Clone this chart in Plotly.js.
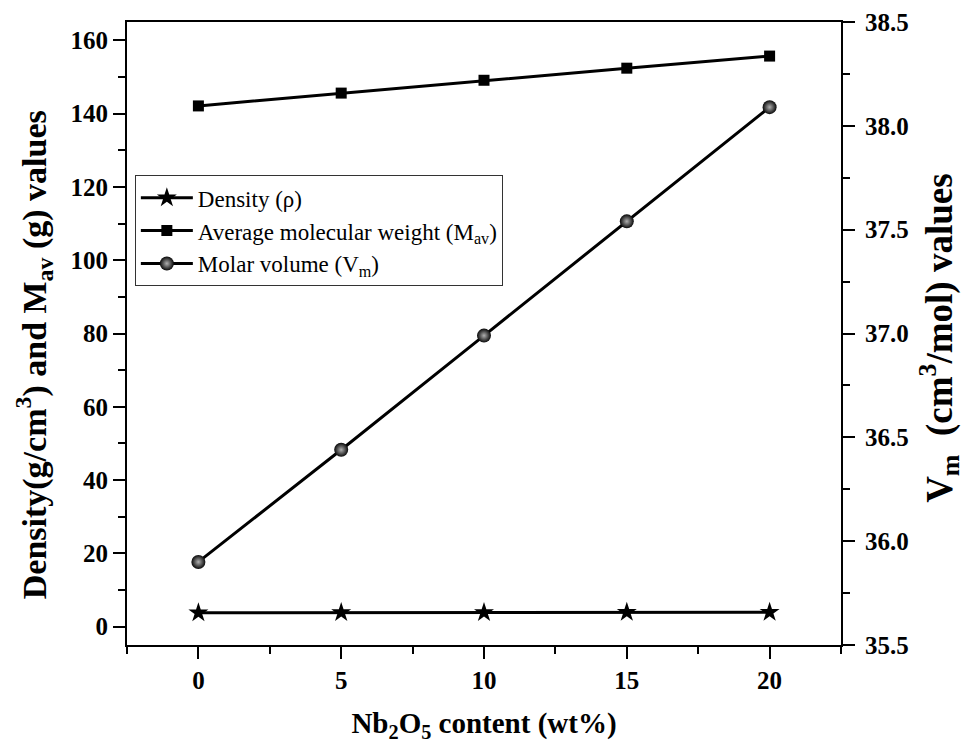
<!DOCTYPE html>
<html>
<head>
<meta charset="utf-8">
<script src="https://cdn.plot.ly/plotly-3.0.1.min.js"></script>
<style>body{margin:0;padding:0;background:#fff;}#chart{width:971px;height:754px;}</style>
</head>
<body>
<div id="chart"></div>
<script>
const content = [0, 5, 10, 15, 20];
const density = [3.82, 3.85, 3.88, 3.92, 3.96];
const mav = [142.1, 145.6, 149.1, 152.4, 155.7];
const vm = [35.90, 36.44, 36.99, 37.54, 38.09];

const names = ['Density (\u03c1)', 'Average molecular weight (M<sub>av</sub>)', 'Molar volume (V<sub>m</sub>)'];
const xTitle = 'Nb<sub>2</sub>O<sub>5</sub> content (wt%)';
const yTitle = 'Density(g/cm<sup>3</sup>) and M<sub>av</sub> (g) values\u00a0\u00a0\u00a0\u00a0\u00a0\u200b';
const y2Title = 'V<sub>m</sub> \u00a0(cm<sup>3</sup>/mol) values\u00a0\u200b';

const serif = '"Liberation Serif", "Times New Roman", serif';

const traces = [
  {x: content, y: density, name: names[0], type: 'scatter', mode: 'lines+markers',
   line: {color: 'black', width: 3}, marker: {symbol: 'star', size: 15, color: 'black'}},
  {x: content, y: mav, name: names[1], type: 'scatter', mode: 'lines+markers',
   line: {color: 'black', width: 3}, marker: {symbol: 'square', size: 11, color: 'black'}},
  {x: content, y: vm, name: names[2], type: 'scatter', mode: 'lines+markers', yaxis: 'y2',
   line: {color: 'black', width: 3},
   marker: {symbol: 'circle', size: 14, color: '#080808', gradient: {type: 'radial', color: '#b0b0b0'}, line: {width: 0}}}
];

const tickFont = {family: serif, size: 25, color: 'black', weight: 'bold'};

const layout = {
  width: 971, height: 754,
  margin: {l: 127, r: 130, t: 22, b: 109},
  paper_bgcolor: 'white', plot_bgcolor: 'white',
  font: {family: serif, color: 'black'},
  showlegend: true,
  legend: {x: 0.011, y: 0.754, xanchor: 'left', yanchor: 'top',
    bgcolor: 'white', bordercolor: '#333', borderwidth: 1, itemwidth: 52,
    font: {family: serif, size: 23, color: 'black'}, tracegroupgap: 0},
  xaxis: {
    range: [-2.5, 22.5], tick0: 0, dtick: 5,
    showline: true, linecolor: 'black', linewidth: 2, mirror: true,
    ticks: 'outside', ticklen: 12, tickwidth: 2, tickcolor: 'black',
    minor: {dtick: 2.5, tick0: 0, ticks: 'outside', ticklen: 7, tickwidth: 2, tickcolor: 'black'},
    showgrid: false, zeroline: false,
    tickfont: tickFont,
    title: {text: xTitle, font: {family: serif, size: 29, color: 'black', weight: 'bold'}, standoff: 20}
  },
  xaxis2: {
    overlaying: 'x', side: 'top', anchor: 'y', range: [-2.5, 22.5], tick0: 0, dtick: 2.5,
    ticks: 'inside', ticklen: 5, tickwidth: 1, tickcolor: '#999',
    showticklabels: false, showline: false, showgrid: false, zeroline: false
  },
  yaxis: {
    range: [-5, 165], tick0: 0, dtick: 20,
    showline: true, linecolor: 'black', linewidth: 2,
    ticks: 'outside', ticklen: 12, tickwidth: 2, tickcolor: 'black',
    minor: {dtick: 10, tick0: 0, ticks: 'outside', ticklen: 7, tickwidth: 2, tickcolor: 'black'},
    showgrid: false, zeroline: false,
    tickfont: tickFont,
    title: {text: yTitle, font: {family: serif, size: 34, color: 'black', weight: 'bold'}, standoff: 14}
  },
  yaxis2: {
    overlaying: 'y', side: 'right', range: [35.5, 38.5], tick0: 35.5, dtick: 0.5, tickformat: '.1f',
    showline: true, linecolor: 'black', linewidth: 2,
    ticks: 'outside', ticklen: 12, tickwidth: 2, tickcolor: 'black', ticklabelstandoff: 5,
    minor: {dtick: 0.25, tick0: 35.5, ticks: 'outside', ticklen: 7, tickwidth: 2, tickcolor: 'black'},
    showgrid: false, zeroline: false,
    tickfont: tickFont,
    title: {text: y2Title, font: {family: serif, size: 37, color: 'black', weight: 'bold'}, standoff: 18}
  }
};

Plotly.newPlot('chart', traces, layout, {displayModeBar: false, staticPlot: true});
</script>
</body>
</html>
